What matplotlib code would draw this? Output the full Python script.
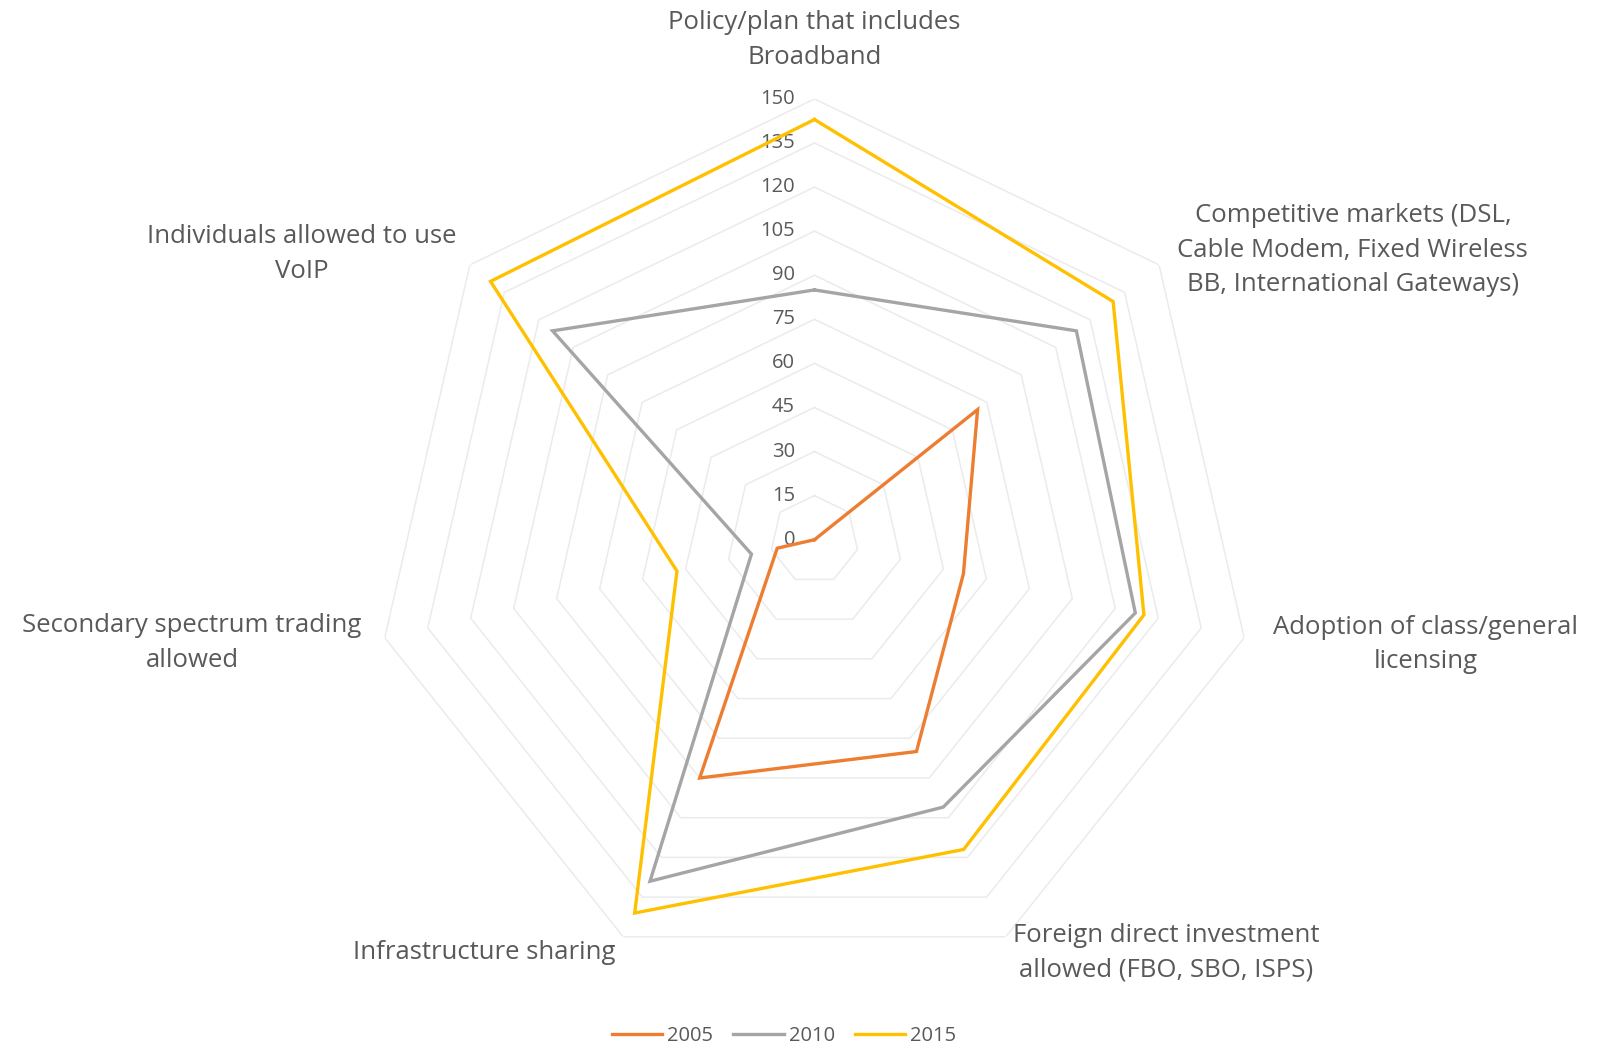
import matplotlib
matplotlib.use("Agg")
import matplotlib.pyplot as plt
import numpy as np

# ---- Data -------------------------------------------------------------------
CATEGORIES = [
    "Policy/plan that includes\nBroadband",
    "Competitive markets (DSL,\nCable Modem, Fixed Wireless\nBB, International Gateways)",
    "Adoption of class/general\nlicensing",
    "Foreign direct investment\nallowed (FBO, SBO, ISPS)",
    "Infrastructure sharing",
    "Secondary spectrum trading\nallowed",
    "Individuals allowed to use\nVoIP",
]
YEARS = ["2005", "2010", "2015"]
V2005 = [0, 71, 52, 80, 90, 13, 0]
V2010 = [85, 114, 112, 101, 129, 22, 114]
V2015 = [143, 130, 115, 117, 141, 48, 141]
RTICKS = list(range(0, 151, 15))

COLORS = ["#ED7D31", "#A5A5A5", "#FFC000"]
TEXT_C = "#595959"
GRID_C = "#EBEBEB"

plt.rcParams["font.family"] = ["Open Sans", "DejaVu Sans"]

fig = plt.figure(figsize=(15.97, 10.49), dpi=100)
ax = fig.add_axes([0.234, 0.065, 0.552, 0.841], projection="polar")
ax.set_theta_zero_location("N")
ax.set_theta_direction(-1)

n = len(CATEGORIES)
angles = np.linspace(0, 2 * np.pi, n, endpoint=False)
closed = np.append(angles, angles[0])

# polygon gridlines
for v in RTICKS[1:]:
    ax.plot(closed, [v] * (n + 1), color=GRID_C, lw=1.1, zorder=1)

for vals, col, lab in zip([V2005, V2010, V2015], COLORS, YEARS):
    ax.plot(closed, vals + vals[:1], color=col, lw=2.4, label=lab, zorder=3,
            solid_joinstyle="miter")

ax.set_ylim(0, 150)
ax.grid(False)
ax.spines["polar"].set_visible(False)
ax.set_xticks([])
ax.set_yticks([])

# radial tick labels along the top axis
for v in RTICKS:
    ax.annotate(str(v), xy=(0, v), xytext=(-14, 0), textcoords="offset points",
                ha="right", va="center", fontsize=14.5, color=TEXT_C, zorder=2)

# category labels
label_r = [170, 158, 160, 156, 156, 158, 156]
for ang, lab, r in zip(angles, CATEGORIES, label_r):
    s = np.sin(ang)
    if abs(s) < 1e-6:
        ha = "center"
    elif s > 0:
        ha = "left"
    else:
        ha = "right"
    ax.text(ang, r, lab, ha=ha, va="center", multialignment="center",
            fontsize=18.5, color=TEXT_C, linespacing=1.5)

fig.legend(loc="center", bbox_to_anchor=(0.491, 0.012), ncol=3,
           frameon=False, fontsize=14.5, handlelength=2.5, columnspacing=1.0,
           handletextpad=0.25, labelcolor=TEXT_C)

fig.savefig("out.png", dpi=100)
